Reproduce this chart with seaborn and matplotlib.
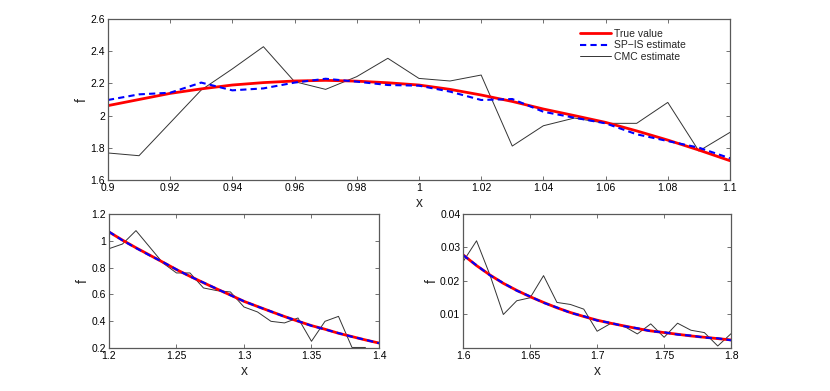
import numpy as np
import matplotlib
matplotlib.use("Agg")
import matplotlib.pyplot as plt
import seaborn as sns
from matplotlib.ticker import FormatStrFormatter

# ---- data ----
x_top = np.linspace(0.90, 1.10, 21)
true_top = [2.062, 2.100, 2.138, 2.166, 2.190, 2.205, 2.215, 2.219, 2.214, 2.204, 2.190,
            2.163, 2.128, 2.088, 2.041, 2.000, 1.958, 1.905, 1.848, 1.786, 1.720]
spis_top = [2.097, 2.132, 2.142, 2.205, 2.157, 2.169, 2.205, 2.229, 2.211, 2.190, 2.186,
            2.149, 2.097, 2.103, 2.024, 1.987, 1.952, 1.884, 1.842, 1.801, 1.735]
cmc_top = [1.768, 1.751, 1.955, 2.159, 2.290, 2.428, 2.211, 2.163, 2.242, 2.356, 2.231,
           2.215, 2.252, 1.811, 1.937, 1.985, 1.952, 1.952, 2.082, 1.780, 1.896]

x_bl = np.linspace(1.20, 1.40, 21)
true_bl = [1.066, 1.005, 0.948, 0.894, 0.840, 0.785, 0.735, 0.687, 0.640, 0.595, 0.548,
           0.510, 0.472, 0.435, 0.400, 0.367, 0.340, 0.310, 0.285, 0.260, 0.237]
spis_bl = [1.068, 1.003, 0.946, 0.892, 0.841, 0.786, 0.734, 0.688, 0.641, 0.594, 0.549,
           0.509, 0.473, 0.434, 0.401, 0.366, 0.339, 0.311, 0.284, 0.261, 0.236]
x_bl_cmc = np.linspace(1.20, 1.39, 20)
cmc_bl = [0.941, 0.976, 1.076, 0.955, 0.834, 0.760, 0.760, 0.648, 0.628, 0.618,
          0.506, 0.469, 0.399, 0.387, 0.424, 0.250, 0.399, 0.436, 0.204, 0.204]

x_br = np.linspace(1.60, 1.80, 21)
true_br = [0.0278, 0.0246, 0.0218, 0.0193, 0.0172, 0.0153, 0.0136, 0.0120, 0.0106, 0.0094, 0.0083,
           0.0074, 0.0066, 0.0058, 0.0051, 0.0046, 0.0041, 0.0036, 0.0032, 0.0028, 0.0024]
spis_br = [0.0277, 0.0247, 0.0217, 0.0194, 0.0171, 0.0154, 0.0135, 0.0121, 0.0105, 0.0095, 0.0082,
           0.0075, 0.0065, 0.0059, 0.0050, 0.0047, 0.0040, 0.0037, 0.0031, 0.0029, 0.0023]
cmc_br = [0.0258, 0.0320, 0.0218, 0.0100, 0.0141, 0.0150, 0.0216, 0.0136, 0.0130, 0.0116, 0.0050,
          0.0073, 0.0065, 0.0042, 0.0072, 0.0032, 0.0074, 0.0053, 0.0046, 0.0006, 0.0043]

sns.set_style("ticks")
plt.rcParams['font.family'] = ['Liberation Sans', 'DejaVu Sans']
plt.rcParams['axes.edgecolor'] = '0.35'

fig = plt.figure(figsize=(8.3, 3.91), dpi=100)
ax_top = fig.add_axes([0.130, 0.5396, 0.7495, 0.4118])
ax_bl = fig.add_axes([0.1313, 0.110, 0.3253, 0.3427])
ax_br = fig.add_axes([0.558, 0.110, 0.3229, 0.3427])


def draw(ax, x, true, spis, xc, cmc, legend=False):
    sns.lineplot(x=xc, y=cmc, ax=ax, color='0.2', linewidth=0.7, label='CMC estimate')
    sns.lineplot(x=x, y=true, ax=ax, color='red', linewidth=2.0, label='True value')
    sns.lineplot(x=x, y=spis, ax=ax, color='blue', linewidth=1.5, linestyle=(0, (3, 2)),
                 label='SP\u2212IS estimate')
    if legend:
        h, l = ax.get_legend_handles_labels()
        order = [1, 2, 0]
        ax.legend([h[i] for i in order], [l[i] for i in order], loc='upper left',
                  bbox_to_anchor=(0.752, 0.965), frameon=False, fontsize=7.5,
                  handlelength=3.0, labelspacing=0.15, borderaxespad=0, handletextpad=0.3)
    else:
        ax.get_legend().remove()
    ax.tick_params(direction='in', top=True, right=True, length=3, width=0.6,
                   labelsize=7.5, pad=2, colors='0.35', labelcolor='black')
    for s in ax.spines.values():
        s.set_linewidth(0.9)
    ax.set_xlabel('x', fontsize=10, labelpad=2)
    ax.set_ylabel('f', fontsize=10, labelpad=1)
    ax.xaxis.set_major_formatter(FormatStrFormatter('%g'))
    ax.yaxis.set_major_formatter(FormatStrFormatter('%g'))


draw(ax_top, x_top, true_top, spis_top, x_top, cmc_top, legend=True)
ax_top.set_xlim(0.9, 1.1)
ax_top.set_ylim(1.6, 2.6)
ax_top.set_xticks(np.linspace(0.9, 1.1, 11))
ax_top.set_yticks(np.linspace(1.6, 2.6, 6))

draw(ax_bl, x_bl, true_bl, spis_bl, x_bl_cmc, cmc_bl)
ax_bl.set_xlim(1.2, 1.4)
ax_bl.set_ylim(0.2, 1.2)
ax_bl.set_xticks([1.2, 1.25, 1.3, 1.35, 1.4])
ax_bl.set_yticks([0.2, 0.4, 0.6, 0.8, 1.0, 1.2])

draw(ax_br, x_br, true_br, spis_br, x_br, cmc_br)
ax_br.set_xlim(1.6, 1.8)
ax_br.set_ylim(0, 0.04)
ax_br.set_xticks([1.6, 1.65, 1.7, 1.75, 1.8])
ax_br.set_yticks([0.01, 0.02, 0.03, 0.04])

fig.savefig('out.png', dpi=100)
